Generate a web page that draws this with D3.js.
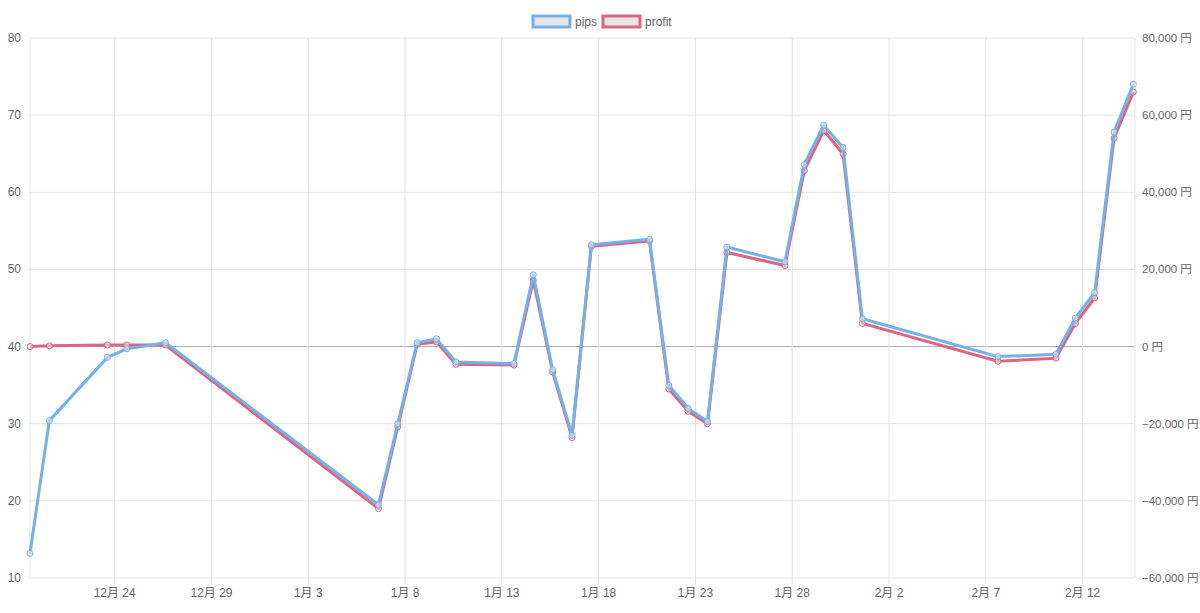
<!DOCTYPE html><html><head><meta charset="utf-8">
<script src="https://cdn.jsdelivr.net/npm/d3@7"></script>
<style>body{margin:0;background:#fff}text{font-family:"Helvetica Neue",Arial,"Noto Sans CJK JP",sans-serif}</style>
</head><body><svg id="c" width="1200" height="613"></svg><script>
const dates=["2019-12-19T15:00","2019-12-20T15:00","2019-12-23T15:00","2019-12-24T15:00","2019-12-26T15:00","2020-01-06T15:00","2020-01-07T15:00","2020-01-08T15:00","2020-01-09T15:00","2020-01-10T15:00","2020-01-13T15:00","2020-01-14T15:00","2020-01-15T15:00","2020-01-16T15:00","2020-01-17T15:00","2020-01-20T15:00","2020-01-21T15:00","2020-01-22T15:00","2020-01-23T15:00","2020-01-24T15:00","2020-01-27T15:00","2020-01-28T15:00","2020-01-29T15:00","2020-01-30T15:00","2020-01-31T15:00","2020-02-07T15:00","2020-02-10T15:00","2020-02-11T15:00","2020-02-12T15:00","2020-02-13T15:00","2020-02-14T15:00"];
const pips=[13.2,30.4,38.6,39.7,40.5,19.5,30,40.5,41,38,37.8,49.3,37,28.5,53.2,53.9,35,32,30.3,52.9,51,63.6,68.7,65.8,43.6,38.7,39,43.7,47,67.8,74];
const profit=[0,200,400,400,400,-42000,-20800,600,1200,-4600,-4800,17200,-6600,-23600,26000,27400,-11000,-16800,-20000,24400,21000,45600,56000,50000,6000,-3800,-3000,6000,12600,54000,66000];
const xTickDates=["2019-12-24","2019-12-29","2020-01-03","2020-01-08","2020-01-13","2020-01-18","2020-01-23","2020-01-28","2020-02-02","2020-02-07","2020-02-12"];
const leftTicks=[10,20,30,40,50,60,70,80];
const rightTicks=[-60000,-40000,-20000,0,20000,40000,60000,80000];
const series=[{name:"profit",color:"#dd6483",vals:profit,axis:"r"},{name:"pips",color:"#74b1ea",vals:pips,axis:"l"}];
const svg=d3.select("#c");
const L=30,R=1135,T=38,B=578;
const pd=d=>new Date(d);
const x=d3.scaleTime().domain([pd(dates[0]),new Date(pd(dates[dates.length-1]).getTime()+3600e3*2)]).range([L,R]);
const yl=d3.scaleLinear().domain([10,80]).range([B,T]);
const yr=d3.scaleLinear().domain([-60000,80000]).range([B,T]);
const g=svg.append("g");
g.selectAll(".hg").data(leftTicks).join("line").attr("x1",L).attr("x2",R).attr("y1",d=>yl(d)).attr("y2",d=>yl(d)).attr("stroke",d=>d===40?"#aaa":"#e3e3e3");
g.append("line").attr("x1",L).attr("x2",L).attr("y1",T).attr("y2",B).attr("stroke","#e3e3e3");
g.append("line").attr("x1",R).attr("x2",R).attr("y1",T).attr("y2",B).attr("stroke","#e3e3e3");
g.selectAll(".vg").data(xTickDates).join("line").attr("x1",d=>x(pd(d+"T00:00"))).attr("x2",d=>x(pd(d+"T00:00"))).attr("y1",T).attr("y2",B+6).attr("stroke","#e3e3e3");
const fmtX=d=>(d.getMonth()+1)+"月 "+d.getDate();
g.selectAll(".xl").data(xTickDates).join("text").attr("x",d=>x(pd(d+"T00:00"))).attr("y",597).attr("text-anchor","middle").attr("font-size",12).attr("fill","#666").text(d=>fmtX(pd(d+"T00:00")));
g.selectAll(".ll").data(leftTicks).join("text").attr("x",L-9).attr("y",d=>yl(d)+4).attr("text-anchor","end").attr("font-size",12).attr("fill","#666").text(d=>d);
g.selectAll(".rl").data(rightTicks).join("text").attr("x",R+7).attr("y",d=>yr(d)+4).attr("font-size",11.5).attr("fill","#666").text(d=>d3.format(",")(d)+" 円");
series.forEach(s=>{
  const y=s.axis==="l"?yl:yr;
  const pts=s.vals.map((v,i)=>[x(pd(dates[i])),y(v)]);
  g.append("path").attr("d",d3.line()(pts)).attr("fill","none").attr("stroke",s.color).attr("stroke-width",3).attr("stroke-linejoin","round");
  g.selectAll(null).data(pts).join("circle").attr("cx",d=>d[0]).attr("cy",d=>d[1]).attr("r",3).attr("fill","rgba(230,230,230,0.6)").attr("stroke",s.color).attr("stroke-width",1);
});
const leg=[{name:"pips",color:"#74b1ea",x:533},{name:"profit",color:"#dd6483",x:603}];
leg.forEach(l=>{
  g.append("rect").attr("x",l.x).attr("y",16).attr("width",37).attr("height",11).attr("fill","#e6e6e6").attr("stroke",l.color).attr("stroke-width",3);
  g.append("text").attr("x",l.x+42).attr("y",26).attr("font-size",12).attr("fill","#666").text(l.name);
});
</script></body></html>
